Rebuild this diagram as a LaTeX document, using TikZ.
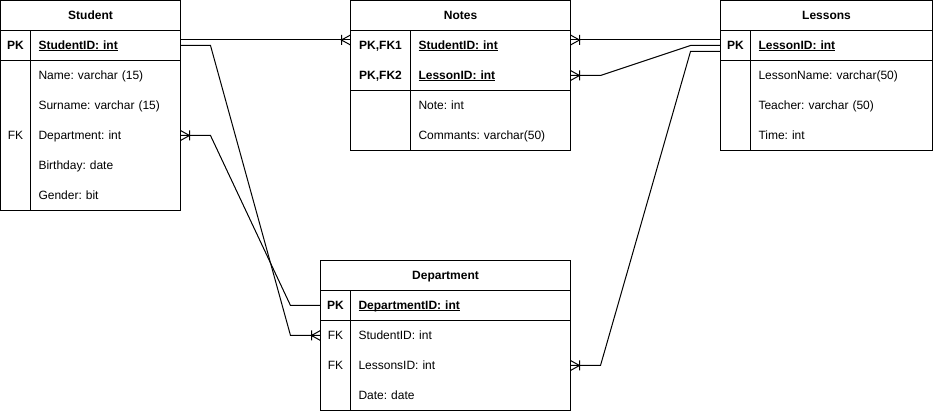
\documentclass[tikz,border=0pt]{standalone}
\usepackage{fontspec}
\setmainfont{Liberation Sans}
\usetikzlibrary{calc}
\newcommand\pkul[1]{\setbox0=\hbox{#1}\rlap{\rule[-2pt]{\wd0}{1pt}}\box0}
\pgfdeclarearrow{
  name = Crow,
  setup code = {
    \pgfarrowssettipend{0pt}
    \pgfarrowssetlineend{0pt}
    \pgfarrowssetbackend{-9pt}
  },
  drawing code = {
    \pgfsetdash{}{0pt}
    \pgfpathmoveto{\pgfqpoint{0pt}{5pt}}
    \pgfpathlineto{\pgfqpoint{-9pt}{0pt}}
    \pgfpathlineto{\pgfqpoint{0pt}{-5pt}}
    \pgfpathmoveto{\pgfqpoint{-9pt}{5pt}}
    \pgfpathlineto{\pgfqpoint{-9pt}{-5pt}}
    \pgfusepathqstroke
  }
}
\begin{document}
\frenchspacing
\begin{tikzpicture}[x=1pt,y=-1pt,line width=1pt,
  every node/.style={font=\fontsize{12pt}{14pt}\selectfont\frenchspacing},
  tbl/.style={draw, line width=1pt, inner sep=0pt, outer sep=0pt, anchor=north west},
  fld/.style={anchor=north west, minimum height=30pt, inner xsep=8pt, inner ysep=0pt, outer sep=0pt, text height=9.5pt, text depth=2pt, align=left},
  keytxt/.style={inner sep=0pt, outer sep=0pt, text height=9.5pt, text depth=2pt},
  keybold/.style={keytxt, font=\fontsize{12pt}{14pt}\selectfont\frenchspacing\bfseries},
  titletxt/.style={keytxt, font=\fontsize{12pt}{14pt}\selectfont\frenchspacing\bfseries},
  crow/.style={-Crow, line width=1pt}
]
\useasboundingbox (0,0) rectangle (934,411);

% ---------- Student ----------
\node[tbl, minimum width=180pt, minimum height=210pt] (s) at (0.5,0.5) {};
\node[titletxt] (s-title) at (90.5,15.5) {Student};
\node[fld, text width=134pt] (s-pk) at (30.5,30.5) {\textbf{\pkul{StudentID: int}}};
\node[fld, text width=134pt] (s-name) at (30.5,60.5) {Name: varchar (15)};
\node[fld, text width=134pt] (s-sur) at (30.5,90.5) {Surname: varchar (15)};
\node[fld, text width=134pt] (s-dep) at (30.5,120.5) {Department: int};
\node[fld, text width=134pt] (s-bir) at (30.5,150.5) {Birthday: date};
\node[fld, text width=134pt] (s-gen) at (30.5,180.5) {Gender: bit};
\node[keybold] (s-k1) at (15.5,45.5) {PK};
\node[keytxt] (s-k2) at (15.5,135.5) {FK};
\draw (s.west |- s-pk.north) -- (s-pk.north east);
\draw (s.west |- s-pk.south) -- (s-pk.south east);
\draw (s-pk.north west) -- (s-pk.north west |- s.south);

% ---------- Notes ----------
\node[tbl, minimum width=220pt, minimum height=150pt] (n) at (350.5,0.5) {};
\node[titletxt] (n-title) at (460.5,15.5) {Notes};
\node[fld, text width=144pt] (n-sid) at (410.5,30.5) {\textbf{\pkul{StudentID: int}}};
\node[fld, text width=144pt] (n-lid) at (410.5,60.5) {\textbf{\pkul{LessonID: int}}};
\node[fld, text width=144pt] (n-note) at (410.5,90.5) {Note: int};
\node[fld, text width=144pt] (n-com) at (410.5,120.5) {Commants: varchar(50)};
\node[keybold] (n-k1) at (380.5,45.5) {PK,FK1};
\node[keybold] (n-k2) at (380.5,75.5) {PK,FK2};
\draw (n.west |- n-sid.north) -- (n-sid.north east);
\draw (n.west |- n-lid.south) -- (n-lid.south east);
\draw (n-sid.north west) -- (n-sid.north west |- n.south);

% ---------- Lessons ----------
\node[tbl, minimum width=212pt, minimum height=150pt] (l) at (720.5,0.5) {};
\node[titletxt] (l-title) at (826.5,15.5) {Lessons};
\node[fld, text width=166pt] (l-pk) at (750.5,30.5) {\textbf{\pkul{LessonID: int}}};
\node[fld, text width=166pt] (l-name) at (750.5,60.5) {LessonName: varchar(50)};
\node[fld, text width=166pt] (l-teach) at (750.5,90.5) {Teacher: varchar (50)};
\node[fld, text width=166pt] (l-time) at (750.5,120.5) {Time: int};
\node[keybold] (l-k1) at (735.5,45.5) {PK};
\draw (l.west |- l-pk.north) -- (l-pk.north east);
\draw (l.west |- l-pk.south) -- (l-pk.south east);
\draw (l-pk.north west) -- (l-pk.north west |- l.south);

% ---------- Department ----------
\node[tbl, minimum width=250pt, minimum height=150pt] (d) at (320.5,260.5) {};
\node[titletxt] (d-title) at (445.5,275.5) {Department};
\node[fld, text width=204pt] (d-pk) at (350.5,290.5) {\textbf{\pkul{DepartmentID: int}}};
\node[fld, text width=204pt] (d-sid) at (350.5,320.5) {StudentID: int};
\node[fld, text width=204pt] (d-lid) at (350.5,350.5) {LessonsID: int};
\node[fld, text width=204pt] (d-date) at (350.5,380.5) {Date: date};
\node[keybold] (d-k1) at (335.5,305.5) {PK};
\node[keytxt] (d-k2) at (335.5,335.5) {FK};
\node[keytxt] (d-k3) at (335.5,365.5) {FK};
\draw (d.west |- d-pk.north) -- (d-pk.north east);
\draw (d.west |- d-pk.south) -- (d-pk.south east);
\draw (d-pk.north west) -- (d-pk.north west |- d.south);

% ---------- Connectors ----------
\draw[crow] ($(s-pk.east)+(0,-5.5)$) -- ($(n.west |- n-sid.west)+(0,-5.5)$);
\draw[crow] (s-pk.east) -- ++(30,0) -- ($(d.west |- d-sid.west)+(-30,0)$) -- (d.west |- d-sid.west);
\draw[crow] (d.west |- d-pk.west) -- ++(-30,0) -- ($(s-dep.east)+(30,0)$) -- (s-dep.east);
\draw[crow] ($(l.west |- l-pk.west)+(0,-5.5)$) -- ($(n-sid.east)+(0,-5.5)$);
\draw[crow] (l.west |- l-pk.west) -- ++(-30,0) -- ($(n-lid.east)+(30,0)$) -- (n-lid.east);
\draw[crow] ($(l.west |- l-pk.west)+(0,6)$) -- ++(-30,0) -- ($(d-lid.east)+(30,0)$) -- (d-lid.east);
\end{tikzpicture}
\end{document}
